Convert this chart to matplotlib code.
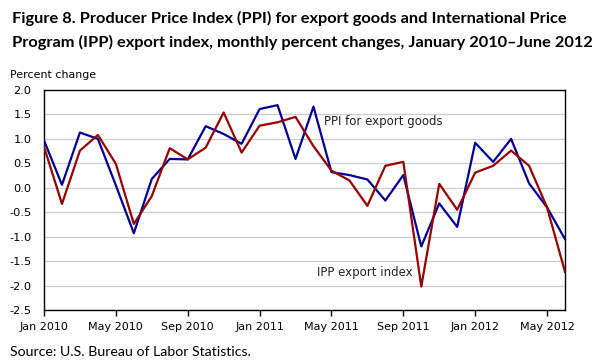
import matplotlib.pyplot as plt
import numpy as np

# monthly data Jan 2010 - Jun 2012
months = ["Jan 2010", "Feb 2010", "Mar 2010", "Apr 2010", "May 2010", "Jun 2010",
          "Jul 2010", "Aug 2010", "Sep 2010", "Oct 2010", "Nov 2010", "Dec 2010",
          "Jan 2011", "Feb 2011", "Mar 2011", "Apr 2011", "May 2011", "Jun 2011",
          "Jul 2011", "Aug 2011", "Sep 2011", "Oct 2011", "Nov 2011", "Dec 2011",
          "Jan 2012", "Feb 2012", "Mar 2012", "Apr 2012", "May 2012", "Jun 2012"]
ppi = [0.97, 0.06, 1.13, 1.0, 0.05, -0.93, 0.18, 0.59, 0.58, 1.26,
       1.1, 0.9, 1.61, 1.69, 0.59, 1.66, 0.32, 0.26, 0.17, -0.26,
       0.26, -1.2, -0.32, -0.8, 0.92, 0.53, 1.0, 0.09, -0.4, -1.05]
ipp = [0.84, -0.33, 0.76, 1.08, 0.49, -0.74, -0.17, 0.81, 0.58, 0.82,
       1.54, 0.72, 1.27, 1.34, 1.45, 0.85, 0.35, 0.15, -0.37, 0.45,
       0.53, -2.02, 0.08, -0.45, 0.31, 0.45, 0.76, 0.45, -0.4, -1.72]

x = np.arange(len(months))

fig = plt.figure(figsize=(6.07, 3.64), dpi=100)
ax = fig.add_axes([44/607, 1-310/364, (565-44)/607, 220/364])

ax.plot(x, ppi, color="#000099", lw=1.6, zorder=3)
ax.plot(x, ipp, color="#990000", lw=1.6, zorder=3)

ax.set_xlim(0, len(months)-1)
ax.set_ylim(-2.5, 2.0)
ax.set_yticks(np.arange(-2.5, 2.01, 0.5))
ax.set_yticklabels(["%.1f" % v for v in np.arange(-2.5, 2.01, 0.5)], fontsize=8.2)
ax.yaxis.grid(True, color="#cccccc", lw=0.9)
ax.set_axisbelow(True)
ax.tick_params(axis="y", length=0, pad=9)
ax.set_xticks(x[::4])
ax.set_xticklabels(months[::4], fontsize=8)
ax.tick_params(axis="x", length=4, width=1, direction="out", pad=5)
for s in ax.spines.values():
    s.set_linewidth(1.0)

ax.text(15.6, 1.35, "PPI for export goods", fontsize=8.5, color="#222222", va="center")
ax.text(15.2, -1.73, "IPP export index", fontsize=8.5, color="#222222", va="center")

fig.text(12/607, 1-18/364, "Figure 8. Producer Price Index (PPI) for export goods and International Price",
         fontsize=11.8, fontweight="bold", family="Lato", va="center")
fig.text(12/607, 1-42/364, "Program (IPP) export index, monthly percent changes, January 2010\u2013June 2012",
         fontsize=11.8, fontweight="bold", family="Lato", va="center")
fig.text(10/607, 1-75/364, "Percent change", fontsize=7.9, va="center")
fig.text(10/607, 1-352/364, "Source: U.S. Bureau of Labor Statistics.", fontsize=10.2, family="Lato", va="center")

plt.savefig("out.png", dpi=100)
